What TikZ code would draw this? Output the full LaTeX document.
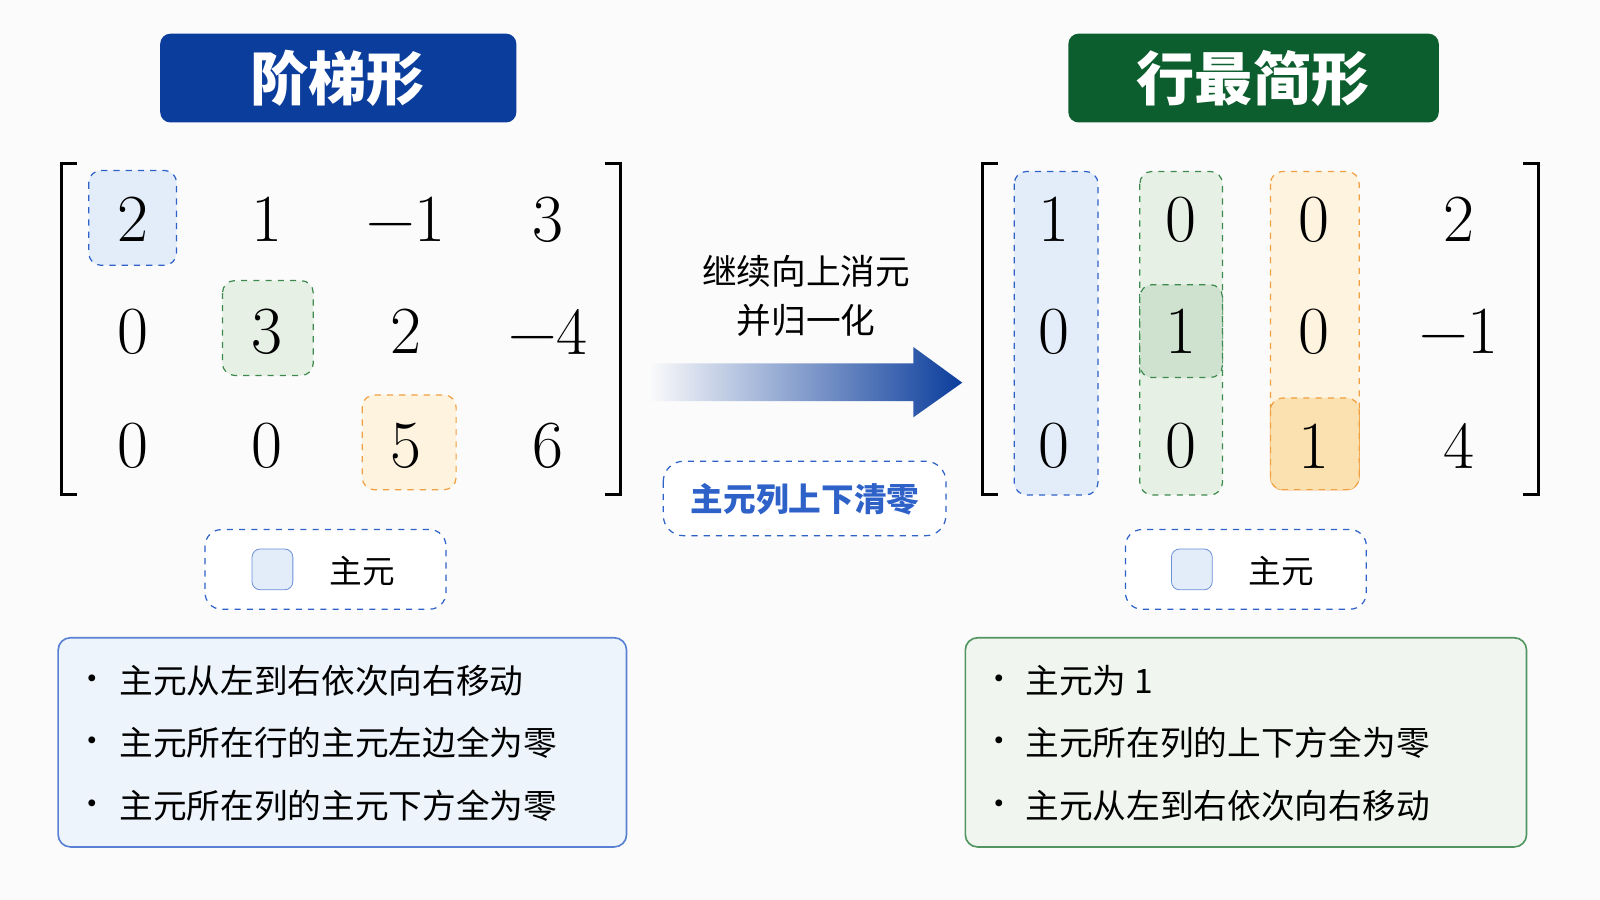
\documentclass[tikz,border=0pt]{standalone}
\usepackage{fontspec}
\newfontfamily\cjk{Noto Sans CJK SC}
\usetikzlibrary{positioning}
\definecolor{tblue}{HTML}{0B3D9C}
\definecolor{tgreen}{HTML}{0D5E2E}
\definecolor{lblue}{HTML}{E3ECF9}
\definecolor{dblue}{HTML}{2E62C9}
\definecolor{lgreen}{HTML}{E6F0E4}
\definecolor{dgreen}{HTML}{3E8A4E}
\definecolor{mgreen}{HTML}{CFE2CF}
\definecolor{lorange}{HTML}{FDF3DF}
\definecolor{dorange}{HTML}{F0A040}
\definecolor{morange}{HTML}{FBE0B0}
\begin{document}
\begin{tikzpicture}[x=0.5pt,y=-0.5pt,
  title/.style={text=white,font=\cjk\bfseries\fontsize{28.5}{30}\selectfont},
  num/.style={font=\fontsize{33}{35}\selectfont},
  bl/.style={dashed,draw=dblue,fill=lblue,rounded corners=6pt,line width=0.6pt},
  gr/.style={dashed,draw=dgreen,fill=lgreen,rounded corners=6pt,line width=0.6pt},
  org/.style={dashed,draw=dorange,fill=lorange,rounded corners=6pt,line width=0.6pt},
  brk/.style={line width=1.5pt},
  bul/.style={anchor=west,font=\cjk\fontsize{16.5}{18}\selectfont},
  dot/.style={font=\fontsize{15}{18}\selectfont}]
\fill[white!97!gray] (0,0) rectangle (1568,882);
\useasboundingbox (0,0) rectangle (1568,882);
% titles
\fill[tblue,rounded corners=5pt] (157,33) rectangle (506,120);
\node[title] (t1) at (331,77) {阶梯形};
\fill[tgreen,rounded corners=5pt] (1047,33) rectangle (1410,120);
\node[title] (t2) at (1228,77) {行最简形};
% left matrix
\draw[brk] (75,160) -- (60,160) -- (60,485) -- (75,485);
\draw[brk] (593,160) -- (608,160) -- (608,485) -- (593,485);
\draw[bl] (87,167) rectangle (173,260);
\draw[gr] (218,275) rectangle (307,368);
\draw[org] (355,387) rectangle (447,480);
\node[num] (a11) at (130,215) {2};
\node[num] (a12) at (262,215) {1};
\node[num] (a13) at (398,215) {−1};
\node[num] (a14) at (537,215) {3};
\node[num] (a21) at (130,325) {0};
\node[num] (a22) at (262,325) {3};
\node[num] (a23) at (398,325) {2};
\node[num] (a24) at (537,325) {−4};
\node[num] (a31) at (130,437) {0};
\node[num] (a32) at (262,437) {0};
\node[num] (a33) at (398,437) {5};
\node[num] (a34) at (537,437) {6};
% left legend
\draw[dashed,draw=dblue,fill=white,rounded corners=8pt,line width=0.6pt] (201,519) rectangle (437,597);
\draw[draw=dblue!70,fill=lblue,rounded corners=4pt] (247,538) rectangle (287,578);
\node[font=\cjk\fontsize{16}{18}\selectfont] (lg1) at (355,560) {主元};
% left bottom box
\draw[draw=dblue!80,fill=lblue!60,rounded corners=6pt,line width=0.8pt] (57,625) rectangle (614,830);
\foreach \y/\t [count=\i] in {667/主元从左到右依次向右移动,728/主元所在行的主元左边全为零,790/主元所在列的主元下方全为零}{
  \node[dot] (ld\i) at (90,\y) {\textbullet};
  \node[bul] (lb\i) at (110,\y) {\t};}
% arrow
\shade[left color=white!97!gray,right color=tblue] (635,356) -- (895,356) -- (895,340) -- (943,375) -- (895,409) -- (895,393) -- (635,393) -- cycle;
\coordinate (ar) at (790,375);
\node[font=\cjk\fontsize{17}{24}\selectfont,align=center] (at) at (790,290) {继续向上消元\\并归一化};
\draw[dashed,draw=dblue,fill=white,rounded corners=10pt,line width=0.6pt] (650,452) rectangle (927,525);
\node[font=\cjk\bfseries\fontsize{16}{18}\selectfont,text=dblue] (ab) at (789,489) {主元列上下清零};
% right matrix
\draw[brk] (978,160) -- (963,160) -- (963,485) -- (978,485);
\draw[brk] (1493,160) -- (1508,160) -- (1508,485) -- (1493,485);
\draw[bl] (994,168) rectangle (1076,485);
\draw[gr] (1117,168) rectangle (1198,485);
\draw[gr,fill=mgreen] (1117,279) rectangle (1198,370);
\draw[org] (1245,168) rectangle (1332,480);
\draw[org,fill=morange] (1245,390) rectangle (1332,480);
\node[num] (b11) at (1033,215) {1};
\node[num] (b12) at (1157,215) {0};
\node[num] (b13) at (1288,215) {0};
\node[num] (b14) at (1430,215) {2};
\node[num] (b21) at (1033,325) {0};
\node[num] (b22) at (1157,325) {1};
\node[num] (b23) at (1288,325) {0};
\node[num] (b24) at (1430,325) {−1};
\node[num] (b31) at (1033,437) {0};
\node[num] (b32) at (1157,437) {0};
\node[num] (b33) at (1288,437) {1};
\node[num] (b34) at (1430,437) {4};
% right legend
\draw[dashed,draw=dblue,fill=white,rounded corners=8pt,line width=0.6pt] (1103,519) rectangle (1339,597);
\draw[draw=dblue!70,fill=lblue,rounded corners=4pt] (1148,538) rectangle (1188,578);
\node[font=\cjk\fontsize{16}{18}\selectfont] (lg2) at (1256,560) {主元};
% right bottom box
\draw[draw=dgreen!90,fill=lgreen!60,rounded corners=6pt,line width=0.8pt] (946,625) rectangle (1496,830);
\foreach \y/\t [count=\i] in {667/主元为 1,728/主元所在列的上下方全为零,790/主元从左到右依次向右移动}{
  \node[dot] (rd\i) at (979,\y) {\textbullet};
  \node[bul] (rb\i) at (998,\y) {\t};}
\end{tikzpicture}
\end{document}
